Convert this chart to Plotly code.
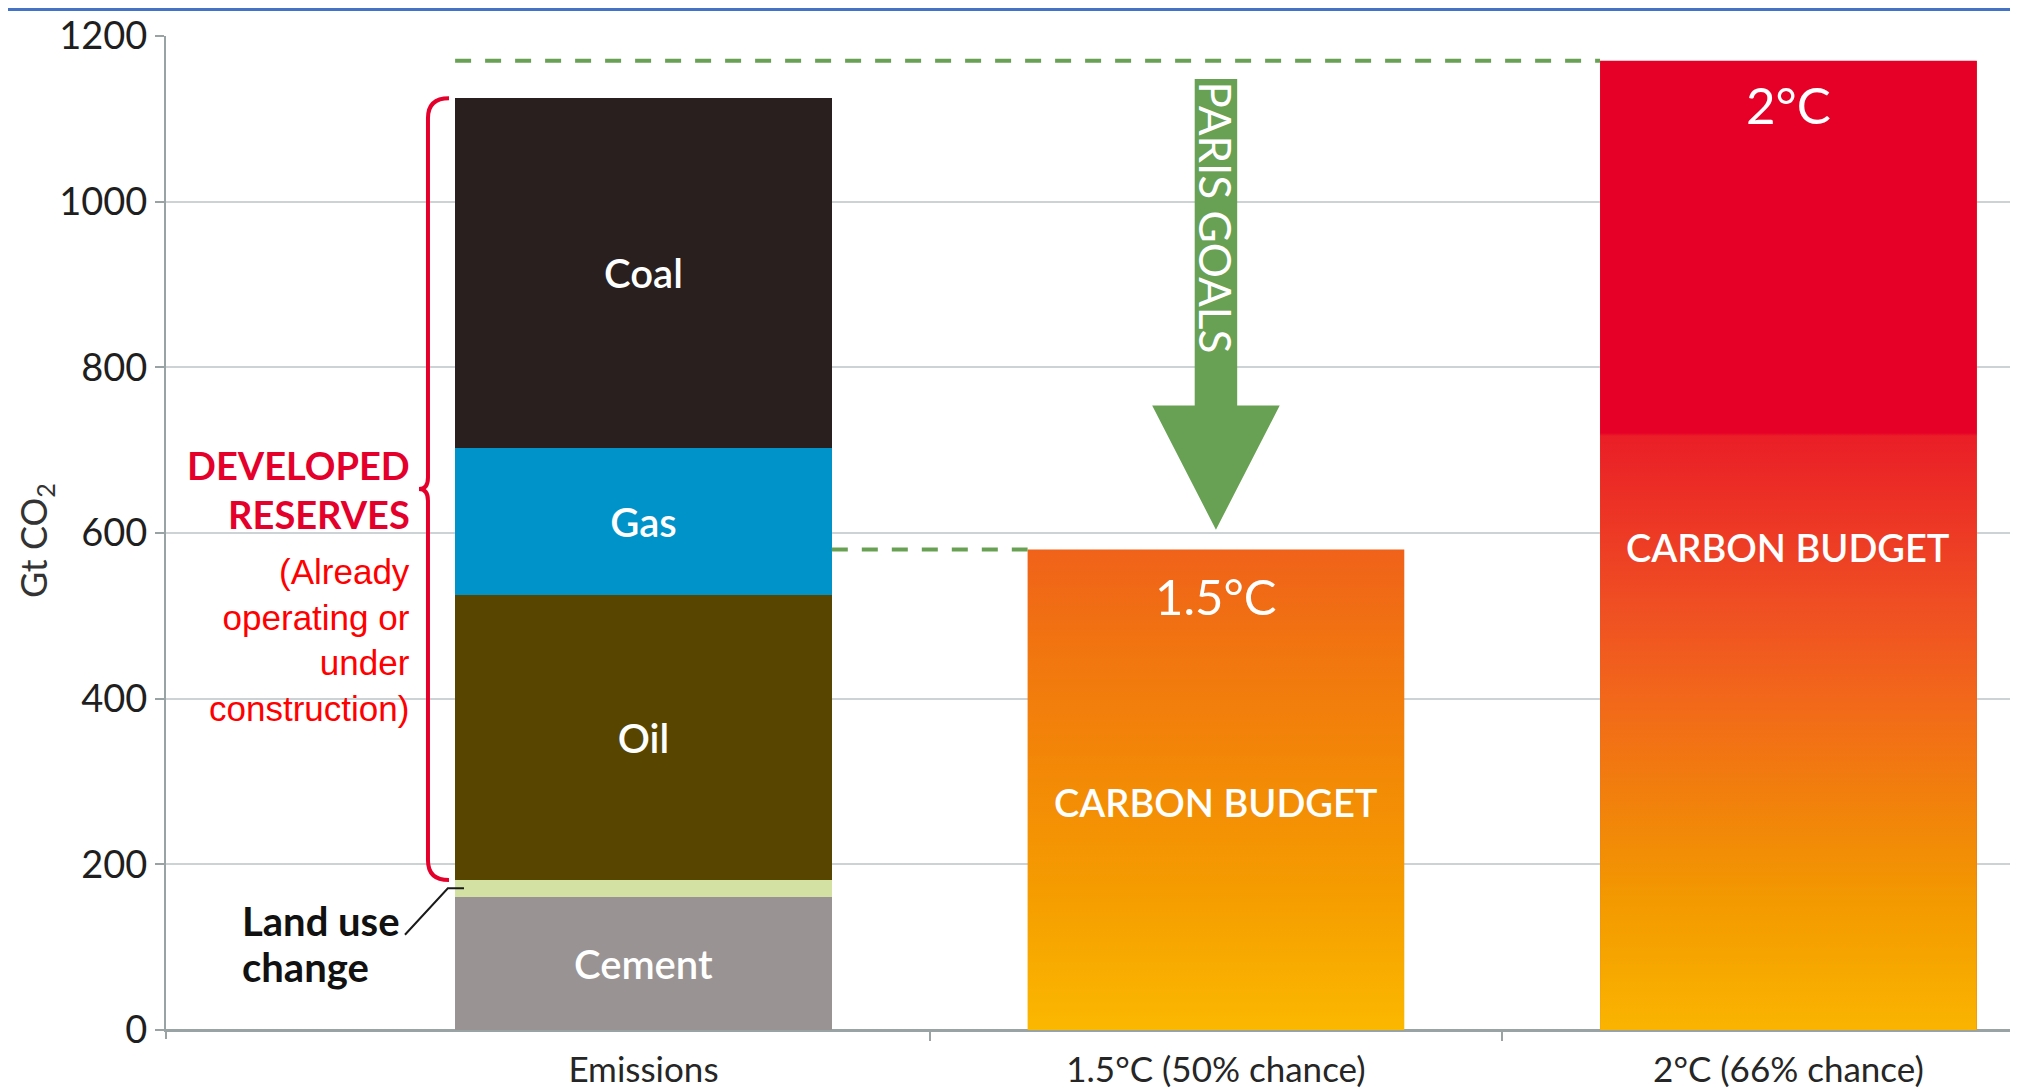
import plotly.graph_objects as go

# ---------------- data ----------------
categories = ["Emissions", "1.5°C (50% chance)", "2°C (66% chance)"]
cat_pos = [0, 1, 2]

emission_sources = ["Cement", "Land use change", "Oil", "Gas", "Coal"]
emission_values = [161, 20, 344, 178, 422]          # Gt CO2, stacked bottom -> top
emission_labels = ["Cement", None, "Oil", "Gas", "Coal"]
emission_colors = ["#999393", "#D3E1A2", "#574500", "#0093C9", "#2A1F1F"]

budget_names = ["1.5°C", "2°C"]
budget_values = [580, 1170]                         # Gt CO2 carbon budgets
budget_pos = [1, 2]

y_ticks = [0, 200, 400, 600, 800, 1000, 1200]

# ---------------- styling ----------------
BW = 0.658
FONT = "Lato"
GREEN = "#68A153"
CRIMSON = "#E4002B"

grad_scales = [
    [[0.0, "#FBB800"], [0.27, "#F59E00"], [0.52, "#F38A06"], [0.78, "#F1760F"], [1.0, "#F0621A"]],
    [[0.0, "#FAB400"], [0.13, "#F39A00"], [0.24, "#F1800C"], [0.34, "#F2681A"],
     [0.44, "#EF4E23"], [0.613, "#EA1E27"], [0.616, "#E60028"], [1.0, "#E60028"]],
]
budget_flat = ["#F38A06", "#EF4E23"]

fig = go.Figure()

# stacked emissions bar
for name, val, lab, col in zip(emission_sources, emission_values, emission_labels, emission_colors):
    kw = {}
    if lab:
        kw = dict(text=[lab], textposition="inside", insidetextanchor="middle",
                  textfont=dict(family=FONT, size=40, color="white", weight=600))
    fig.add_trace(go.Bar(
        x=[cat_pos[0]], y=[val], name=name, width=BW,
        marker=dict(color=col, line=dict(width=0)),
        hovertemplate=name + ": %{y} Gt CO2<extra></extra>", **kw,
    ))

# carbon budget bars
fig.add_trace(go.Bar(
    x=budget_pos, y=budget_values, width=BW, name="Carbon budget",
    marker=dict(color=budget_flat, line=dict(width=0)),
    hovertemplate="%{y} Gt CO2<extra></extra>",
))

# gradient overlays on the budget bars
for p, v, cs in zip(budget_pos, budget_values, grad_scales):
    fig.add_trace(go.Scatter(
        x=[p - BW / 2, p + BW / 2, p + BW / 2, p - BW / 2, p - BW / 2],
        y=[0, 0, v, v, 0],
        mode="lines", line=dict(width=0), fill="toself",
        fillgradient=dict(type="vertical", colorscale=cs, start=0, stop=v),
        hoverinfo="skip", showlegend=False,
    ))

# dashed reference lines
emis_left = cat_pos[0] - BW / 2
emis_right = cat_pos[0] + BW / 2
fig.add_trace(go.Scatter(
    x=[emis_left, budget_pos[1] - BW / 2], y=[budget_values[1]] * 2,
    mode="lines", line=dict(color=GREEN, width=4, dash="16px,14px"),
    hoverinfo="skip", showlegend=False,
))
fig.add_trace(go.Scatter(
    x=[emis_right, budget_pos[0] - BW / 2], y=[budget_values[0]] * 2,
    mode="lines", line=dict(color=GREEN, width=4, dash="16px,14px"),
    hoverinfo="skip", showlegend=False,
))

shapes = []

# PARIS GOALS arrow
ax = budget_pos[0]
a_top = budget_values[1] - 22
a_tip = budget_values[0] + 24
a_head = a_tip + 150
sw, hw = 0.0371, 0.1114
arrow_path = (f"M {ax - sw},{a_top} L {ax + sw},{a_top} L {ax + sw},{a_head} "
              f"L {ax + hw},{a_head} L {ax},{a_tip} L {ax - hw},{a_head} "
              f"L {ax - sw},{a_head} Z")
shapes.append(dict(type="path", path=arrow_path, xref="x", yref="y",
                   fillcolor=GREEN, line=dict(width=0), layer="above"))

# red curly brace for developed reserves (oil + gas + coal)
res_bot = sum(emission_values[:2])
res_top = sum(emission_values)
res_mid = (res_bot + res_top) / 2
vx, tipx, px = -0.3764, -0.3397, -0.3921
r, r2 = 24, 14
brace = (f"M {tipx},{res_top} Q {vx},{res_top} {vx},{res_top - r} "
         f"L {vx},{res_mid + r2} Q {vx},{res_mid} {px},{res_mid} "
         f"Q {vx},{res_mid} {vx},{res_mid - r2} "
         f"L {vx},{res_bot + r} Q {vx},{res_bot} {tipx},{res_bot}")
shapes.append(dict(type="path", path=brace, xref="x", yref="y",
                   line=dict(color=CRIMSON, width=4), layer="above"))

# leader line for land use change
lu_mid = emission_values[0] + emission_values[1] / 2
leader = f"M -0.4166,{lu_mid - 56} L -0.3417,{lu_mid} L -0.3135,{lu_mid}"
shapes.append(dict(type="path", path=leader, xref="x", yref="y",
                   line=dict(color="#1a1a1a", width=2), layer="above"))

# y-axis line extension below zero
shapes.append(dict(type="line", xref="paper", yref="paper", x0=0, x1=0, y0=0, y1=-0.009,
                   line=dict(color="#9AA3A3", width=2)))
# thin blue frame line at very top
shapes.append(dict(type="line", xref="paper", yref="paper", x0=-0.0854, x1=1,
                   y0=1.0267, y1=1.0267, line=dict(color="#4472C4", width=3)))

annotations = []
# labels on the budget bars
temp_sizes = [49, 51]
temp_shift = [-46, -44]
cb_shift = [-12, -2]
for p, v, nm, ts, tsh, cbs in zip(budget_pos, budget_values, budget_names, temp_sizes, temp_shift, cb_shift):
    annotations.append(dict(x=p, y=v, yshift=tsh, text=nm, showarrow=False,
                            xanchor="center", yanchor="middle",
                            font=dict(family=FONT, size=ts, color="white")))
    annotations.append(dict(x=p, y=v / 2, yshift=cbs, text="CARBON BUDGET", showarrow=False,
                            xanchor="center", yanchor="middle",
                            font=dict(family=FONT, size=38, color="white", weight=600)))

annotations.append(dict(x=ax, y=981, text="PARIS GOALS", textangle=90, showarrow=False,
                        xanchor="center", yanchor="middle",
                        font=dict(family=FONT, size=44, color="white")))

annotations.append(dict(x=-0.4044, y=res_mid, text="DEVELOPED<br>RESERVES", showarrow=False,
                        xanchor="right", yanchor="middle", align="right",
                        font=dict(family=FONT, size=38, color=CRIMSON, weight="bold")))
annotations.append(dict(x=-0.4044, y=471, text="(Already<br>operating or<br>under<br>construction)",
                        showarrow=False, xanchor="right", yanchor="middle", align="right",
                        font=dict(family="Liberation Sans, Arial", size=35, color="#FF0000")))
for line_text, yv in zip(["Land use", "change"], [131, 76]):
    annotations.append(dict(x=-0.7050, y=yv, text=line_text, showarrow=False,
                            xanchor="left", yanchor="middle", align="left",
                            font=dict(family=FONT, size=40, color="#111111", weight="bold")))
annotations.append(dict(xref="paper", yref="paper", x=-0.0702, y=0.493, text="Gt CO<sub>2</sub>",
                        textangle=-90, showarrow=False, xanchor="center", yanchor="middle",
                        font=dict(family=FONT, size=36, color="#333333")))

fig.update_layout(
    width=2010, height=1083,
    margin=dict(l=158, r=0, t=28, b=61, autoexpand=False),
    paper_bgcolor="white", plot_bgcolor="white",
    barmode="stack", bargap=0, showlegend=False,
    shapes=shapes, annotations=annotations,
    xaxis=dict(
        range=[-0.834, 2.401], tickvals=cat_pos, ticktext=categories,
        ticks="", showgrid=False, zeroline=False,
        showline=True, linecolor="#9AA3A3", linewidth=2,
        ticklabelstandoff=8,
        tickfont=dict(family=FONT, size=35, color="#262626"),
        minor=dict(tickmode="array", tickvals=[0.5, 1.5], ticks="outside",
                   ticklen=9, tickwidth=2, tickcolor="#9AA3A3", showgrid=False),
    ),
    yaxis=dict(
        range=[0, 1200], tickvals=y_ticks, ticks="outside", ticklen=9,
        tickwidth=2, tickcolor="#9AA3A3",
        showgrid=True, gridcolor="#CDD3D4", gridwidth=2,
        zeroline=True, zerolinecolor="#9AA3A3", zerolinewidth=2,
        showline=True, linecolor="#9AA3A3", linewidth=2,
        tickfont=dict(family=FONT, size=38, color="#1f1f1f"),
    ),
)

fig.write_html("out.html")
